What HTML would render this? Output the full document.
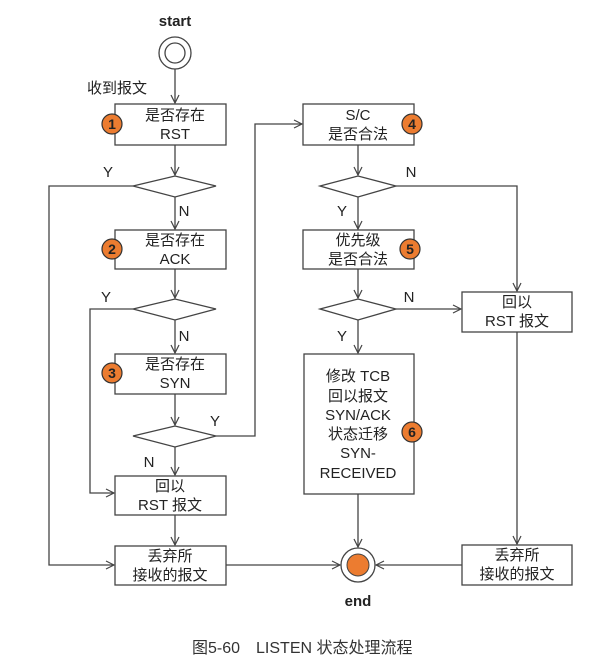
<!DOCTYPE html>
<html><head><meta charset="utf-8"><style>
html,body{margin:0;padding:0;background:#fff;width:612px;height:667px;overflow:hidden}
text{font-family:"Liberation Sans","Noto Sans CJK SC",sans-serif;fill:#222}
</style></head><body>
<svg width="612" height="667" viewBox="0 0 612 667" xmlns="http://www.w3.org/2000/svg">
<defs>
<marker id="a" markerWidth="10" markerHeight="10" refX="9" refY="5" orient="auto" markerUnits="userSpaceOnUse">
<path d="M1,1 L9,5 L1,9" fill="none" stroke="#444" stroke-width="1.2"/></marker>
</defs>
<g fill="none" stroke="#444" stroke-width="1.3">
<circle cx="175" cy="53" r="16"/><circle cx="175" cy="53" r="10"/>
<line x1="175" y1="69" x2="175" y2="103" marker-end="url(#a)"/>
<rect x="115" y="104" width="111" height="41" fill="#fff"/>
<line x1="175" y1="145" x2="175" y2="175" marker-end="url(#a)"/>
<polygon points="133,186 175,176 216,186 175,197" fill="#fff"/>
<polyline points="133,186 49,186 49,565 114,565" marker-end="url(#a)"/>
<line x1="175" y1="197" x2="175" y2="229" marker-end="url(#a)"/>
<rect x="115" y="230" width="111" height="39" fill="#fff"/>
<line x1="175" y1="269" x2="175" y2="298" marker-end="url(#a)"/>
<polygon points="133,309 175,299 216,309 175,320" fill="#fff"/>
<polyline points="133,309 90,309 90,493 114,493" marker-end="url(#a)"/>
<line x1="175" y1="320" x2="175" y2="353" marker-end="url(#a)"/>
<rect x="115" y="354" width="111" height="40" fill="#fff"/>
<line x1="175" y1="394" x2="175" y2="425" marker-end="url(#a)"/>
<polygon points="133,436 175,426 216,436 175,447" fill="#fff"/>
<polyline points="216,436 255,436 255,124 302,124" marker-end="url(#a)"/>
<line x1="175" y1="447" x2="175" y2="475" marker-end="url(#a)"/>
<rect x="115" y="476" width="111" height="39" fill="#fff"/>
<line x1="175" y1="515" x2="175" y2="545" marker-end="url(#a)"/>
<rect x="115" y="546" width="111" height="39" fill="#fff"/>
<line x1="226" y1="565" x2="340" y2="565" marker-end="url(#a)"/>
<rect x="303" y="104" width="111" height="41" fill="#fff"/>
<line x1="358" y1="145" x2="358" y2="175" marker-end="url(#a)"/>
<polygon points="320,186 358,176 396,186 358,197" fill="#fff"/>
<polyline points="396,186 517,186 517,291" marker-end="url(#a)"/>
<line x1="358" y1="197" x2="358" y2="229" marker-end="url(#a)"/>
<rect x="303" y="230" width="111" height="39" fill="#fff"/>
<line x1="358" y1="269" x2="358" y2="298" marker-end="url(#a)"/>
<polygon points="320,309 358,299 396,309 358,320" fill="#fff"/>
<line x1="396" y1="309" x2="461" y2="309" marker-end="url(#a)"/>
<line x1="358" y1="320" x2="358" y2="353" marker-end="url(#a)"/>
<rect x="304" y="354" width="110" height="140" fill="#fff"/>
<line x1="358" y1="494" x2="358" y2="547" marker-end="url(#a)"/>
<rect x="462" y="292" width="110" height="40" fill="#fff"/>
<line x1="517" y1="332" x2="517" y2="544" marker-end="url(#a)"/>
<rect x="462" y="545" width="110" height="40" fill="#fff"/>
<line x1="462" y1="565" x2="376" y2="565" marker-end="url(#a)"/>
<circle cx="358" cy="565" r="17" fill="#fff"/>
</g>
<circle cx="358" cy="565" r="11" fill="#ec7c30" stroke="#444" stroke-width="1"/>
<g fill="#ec7c30" stroke="#333" stroke-width="1.2">
<circle cx="112" cy="124" r="10"/><circle cx="112" cy="249" r="10"/><circle cx="112" cy="373" r="10"/>
<circle cx="412" cy="124" r="10"/><circle cx="410" cy="249" r="10"/><circle cx="412" cy="432" r="10"/>
</g>
<g font-size="14" font-weight="bold" text-anchor="middle">
<text x="112" y="129">1</text><text x="112" y="254">2</text><text x="112" y="378">3</text>
<text x="412" y="129">4</text><text x="410" y="254">5</text><text x="412" y="437">6</text>
</g>
<g font-size="15" font-weight="bold" text-anchor="middle">
<text x="175" y="26">start</text><text x="358" y="606">end</text>
</g>
<g font-size="15" text-anchor="middle">
<text x="117" y="93">收到报文</text>
<text x="175" y="120">是否存在</text><text x="175" y="139">RST</text>
<text x="175" y="245">是否存在</text><text x="175" y="264">ACK</text>
<text x="175" y="369">是否存在</text><text x="175" y="388">SYN</text>
<text x="170" y="491">回以</text><text x="170" y="510">RST 报文</text>
<text x="170" y="561">丢弃所</text><text x="170" y="580">接收的报文</text>
<text x="358" y="120">S/C</text><text x="358" y="139">是否合法</text>
<text x="358" y="245">优先级</text><text x="358" y="264">是否合法</text>
<text x="517" y="307">回以</text><text x="517" y="326">RST 报文</text>
<text x="517" y="560">丢弃所</text><text x="517" y="579">接收的报文</text>
<text x="358" y="381">修改 TCB</text><text x="358" y="401">回以报文</text>
<text x="358" y="420">SYN/ACK</text><text x="358" y="439">状态迁移</text>
<text x="358" y="458">SYN-</text><text x="358" y="478">RECEIVED</text>
<text x="108" y="177">Y</text><text x="184" y="216">N</text>
<text x="106" y="302">Y</text><text x="184" y="341">N</text>
<text x="215" y="426">Y</text><text x="149" y="467">N</text>
<text x="411" y="177">N</text><text x="342" y="216">Y</text>
<text x="409" y="302">N</text><text x="342" y="341">Y</text>
</g>
<text x="192" y="653" font-size="16" style="fill:#333">图5-60　LISTEN 状态处理流程</text>
</svg>
</body></html>
